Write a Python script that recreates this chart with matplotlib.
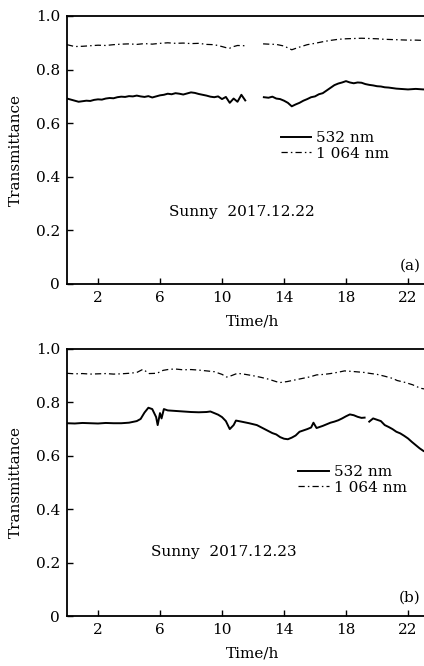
import matplotlib
matplotlib.use("Agg")
import matplotlib.pyplot as plt
import numpy as np

plt.rcParams['font.family'] = ['DejaVu Serif']

# ---------------- data (a) 2017.12.22 ----------------
a532_t1 = [0.00, 0.25, 0.50, 0.75, 1.00, 1.25, 1.50, 1.75, 2.00, 2.25, 2.50, 2.75, 3.00, 3.25,
           3.50, 3.75, 4.00, 4.25, 4.50, 4.75, 5.00, 5.25, 5.50, 5.75, 6.00, 6.25, 6.50, 6.75,
           7.00, 7.25, 7.50, 7.75, 8.00, 8.25, 8.50, 8.75, 9.00, 9.25, 9.50, 9.75, 10.00, 10.25,
           10.50, 10.75, 11.00, 11.25, 11.50]
a532_v1 = [0.692, 0.688, 0.684, 0.680, 0.682, 0.684, 0.683, 0.687, 0.689, 0.688, 0.692, 0.694,
           0.693, 0.697, 0.699, 0.698, 0.701, 0.700, 0.703, 0.700, 0.698, 0.701, 0.696, 0.700,
           0.704, 0.706, 0.710, 0.708, 0.712, 0.710, 0.707, 0.711, 0.715, 0.713, 0.709, 0.706,
           0.703, 0.699, 0.697, 0.700, 0.690, 0.698, 0.676, 0.692, 0.680, 0.706, 0.685]
a532_t2 = [12.70, 13.00, 13.25, 13.50, 13.75, 14.00, 14.25, 14.50, 14.75, 15.00, 15.25, 15.50,
           15.75, 16.00, 16.25, 16.50, 16.75, 17.00, 17.25, 17.50, 17.75, 18.00, 18.25, 18.50,
           18.75, 19.00, 19.25, 19.50, 19.75, 20.00, 20.25, 20.50, 20.75, 21.00, 21.25, 21.50,
           21.75, 22.00, 22.25, 22.50, 22.75, 23.00, 23.25]
a532_v2 = [0.697, 0.695, 0.699, 0.692, 0.690, 0.684, 0.676, 0.663, 0.670, 0.676, 0.684, 0.690,
           0.697, 0.700, 0.708, 0.712, 0.722, 0.732, 0.742, 0.748, 0.752, 0.757, 0.752, 0.749,
           0.752, 0.751, 0.746, 0.743, 0.741, 0.738, 0.737, 0.734, 0.733, 0.731, 0.729, 0.728,
           0.727, 0.726, 0.727, 0.728, 0.727, 0.726, 0.727]
a1064_t1 = [0.0, 0.5, 1.0, 1.5, 2.0, 2.5, 3.0, 3.5, 4.0, 4.5, 5.0, 5.5, 6.0, 6.5, 7.0, 7.5, 8.0,
            8.5, 9.0, 9.5, 10.0, 10.25, 10.5, 10.75, 11.0, 11.5]
a1064_v1 = [0.893, 0.886, 0.887, 0.889, 0.891, 0.890, 0.893, 0.895, 0.896, 0.894, 0.897, 0.895,
            0.898, 0.900, 0.898, 0.899, 0.897, 0.898, 0.894, 0.893, 0.886, 0.882, 0.880, 0.886,
            0.890, 0.889]
a1064_t2 = [12.65, 13.0, 13.5, 14.0, 14.5, 15.0, 15.5, 16.0, 16.5, 17.0, 17.5, 18.0, 18.5, 19.0,
            19.5, 20.0, 20.5, 21.0, 21.5, 22.0, 22.5, 23.0, 23.5]
a1064_v2 = [0.896, 0.895, 0.894, 0.888, 0.874, 0.884, 0.893, 0.898, 0.904, 0.909, 0.913, 0.915,
            0.916, 0.917, 0.916, 0.915, 0.913, 0.912, 0.911, 0.910, 0.910, 0.909, 0.909]

# ---------------- data (b) 2017.12.23 ----------------
b532_t1 = [0.0, 0.5, 1.0, 1.5, 2.0, 2.5, 3.0, 3.5, 4.0, 4.5, 4.75, 5.0, 5.25, 5.5, 5.75, 5.85,
           6.0, 6.1, 6.25, 6.5, 7.0, 7.5, 8.0, 8.5, 9.0, 9.25, 9.5, 9.75, 10.0, 10.25, 10.5,
           10.75, 10.9, 11.25, 11.75, 12.25, 12.75, 13.25, 13.5, 13.75, 14.0, 14.25, 14.5, 14.75,
           15.0, 15.25, 15.5, 15.75, 15.9, 16.1, 16.3, 16.5, 16.75, 17.0, 17.25, 17.5, 17.75,
           18.0, 18.25, 18.5, 18.75, 19.0, 19.2]
b532_v1 = [0.722, 0.721, 0.723, 0.722, 0.721, 0.723, 0.722, 0.722, 0.724, 0.730, 0.738, 0.762,
           0.780, 0.775, 0.745, 0.715, 0.760, 0.740, 0.775, 0.770, 0.768, 0.766, 0.764, 0.763,
           0.764, 0.766, 0.760, 0.754, 0.745, 0.730, 0.700, 0.715, 0.732, 0.728, 0.722, 0.715,
           0.700, 0.685, 0.680, 0.670, 0.664, 0.662, 0.668, 0.676, 0.690, 0.695, 0.700, 0.706,
           0.724, 0.704, 0.708, 0.712, 0.718, 0.724, 0.728, 0.733, 0.740, 0.748, 0.755, 0.752,
           0.746, 0.742, 0.743]
b532_t2 = [19.5, 19.75, 20.0, 20.25, 20.5, 20.75, 21.0, 21.25, 21.5, 21.75, 22.0, 22.25, 22.5,
           22.75, 23.0, 23.25]
b532_v2 = [0.728, 0.740, 0.735, 0.730, 0.715, 0.708, 0.700, 0.690, 0.684, 0.675, 0.665, 0.652,
           0.640, 0.628, 0.618, 0.612]
b1064_t = [0.0, 0.5, 1.0, 1.5, 2.0, 2.5, 3.0, 3.5, 4.0, 4.5, 4.9, 5.3, 5.8, 6.2, 6.6, 7.0, 7.5,
           8.0, 8.5, 9.0, 9.5, 10.0, 10.3, 10.6, 11.0, 11.5, 12.0, 12.5, 13.0, 13.7, 14.2, 14.7,
           15.2, 15.7, 16.1, 16.6, 17.0, 17.5, 17.9, 18.4, 18.8, 19.2, 19.5, 20.0, 20.5, 21.0,
           21.3, 21.8, 22.3, 22.8, 23.3]
b1064_v = [0.909, 0.907, 0.908, 0.906, 0.907, 0.908, 0.906, 0.907, 0.909, 0.912, 0.924, 0.908,
           0.909, 0.920, 0.924, 0.925, 0.922, 0.923, 0.921, 0.918, 0.915, 0.905, 0.895, 0.900,
           0.909, 0.905, 0.900, 0.894, 0.887, 0.874, 0.878, 0.884, 0.890, 0.896, 0.903, 0.905,
           0.908, 0.913, 0.918, 0.916, 0.914, 0.912, 0.909, 0.905, 0.898, 0.890, 0.882, 0.875,
           0.866, 0.853, 0.848]

xticks = [2, 6, 10, 14, 18, 22]
yticks = [0, 0.2, 0.4, 0.6, 0.8, 1.0]
yticklabels = ['0', '0.2', '0.4', '0.6', '0.8', '1.0']
labels = ['532 nm', '1 064 nm']

W, H = 424, 666
fig = plt.figure(figsize=(W / 100, H / 100), dpi=100)

def make_axes(top_px, bot_px):
    left = 67 / W
    width = 372 / W
    return fig.add_axes([left, 1 - bot_px / H, width, (bot_px - top_px) / H])

panels = [
    dict(ax=make_axes(16, 284),
         s532=[(a532_t1, a532_v1), (a532_t2, a532_v2)],
         s1064=[(a1064_t1, a1064_v1), (a1064_t2, a1064_v2)],
         text='Sunny  2017.12.22', tx=6.6, ty=0.27, tag='(a)', leg=(0.575, 0.570)),
    dict(ax=make_axes(349, 616),
         s532=[(b532_t1, b532_v1), (b532_t2, b532_v2)],
         s1064=[(b1064_t, b1064_v)],
         text='Sunny  2017.12.23', tx=5.4, ty=0.24, tag='(b)', leg=(0.622, 0.565)),
]

FS = 11
for p in panels:
    ax = p['ax']
    h1 = None
    for t, v in p['s532']:
        h1, = ax.plot(t, v, color='black', lw=1.4, ls='-')
    for t, v in p['s1064']:
        h2, = ax.plot(t, v, color='black', lw=0.9, dashes=(5, 2.5, 1.2, 2.5))
    ax.set_xlim(0, 24)
    ax.set_ylim(0, 1.0)
    ax.set_xticks(xticks)
    ax.set_xticklabels([str(x) for x in xticks])
    ax.set_yticks(yticks)
    ax.set_yticklabels(yticklabels)
    ax.tick_params(direction='in', length=4, width=1.0, labelsize=FS, pad=5)
    ax.tick_params(axis='x', top=False)
    ax.tick_params(axis='y', right=False)
    for s in ax.spines.values():
        s.set_linewidth(1.3)
    ax.set_xlabel('Time/h', fontsize=FS, labelpad=7)
    ax.set_ylabel('Transmittance', fontsize=FS, labelpad=9)
    ax.text(p['tx'], p['ty'], p['text'], fontsize=FS, ha='left', va='center')
    ax.text(22.8, 0.067, p['tag'], fontsize=FS, ha='right', va='center')
    ax.legend([h1, h2], labels, loc='upper left', bbox_to_anchor=p['leg'], frameon=False,
              fontsize=FS, handlelength=2.0, handletextpad=0.3, labelspacing=0.1,
              borderpad=0, borderaxespad=0)

fig.savefig('out.png', dpi=100)
